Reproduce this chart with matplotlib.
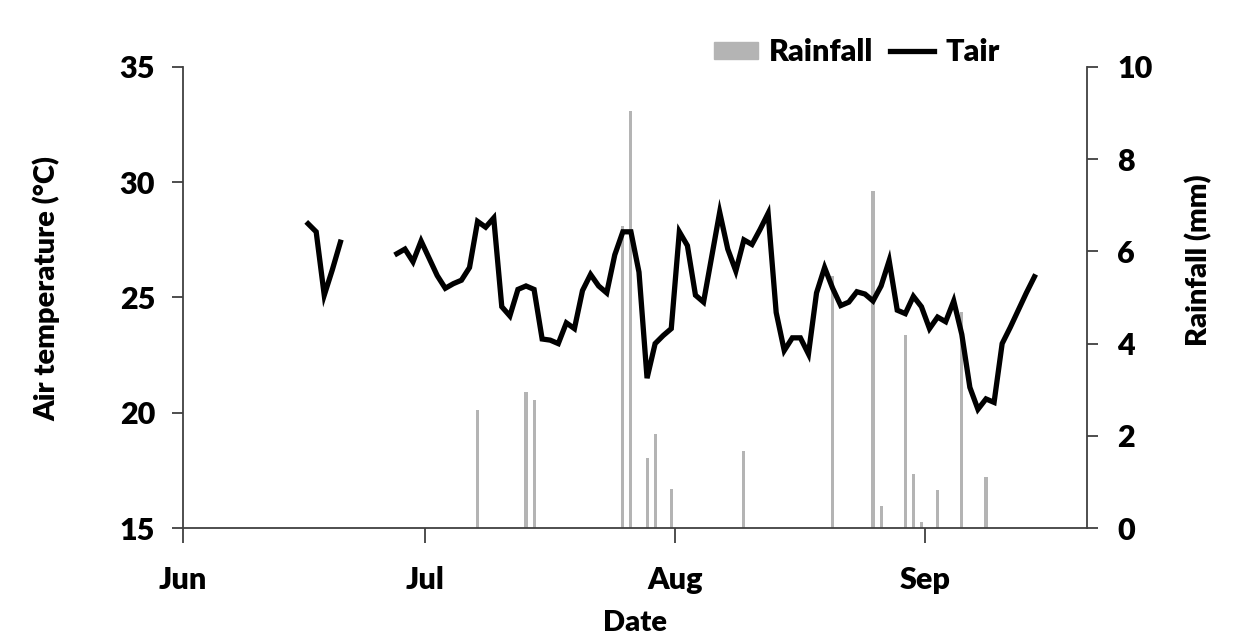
import numpy as np
import matplotlib
matplotlib.use('Agg')
import matplotlib.pyplot as plt
from matplotlib.patches import Patch
from matplotlib.lines import Line2D

# day index from 1 June (0 = Jun 1)
tair_days = list(range(15, 20)) + list(range(26, 106))
tair = [28.2, 27.85, 25.1, 26.2, 27.4,
        26.9, 27.1, 26.55, 27.45, 26.7, 25.95, 25.4, 25.6, 25.75, 26.3,
        28.3, 28.05, 28.45, 24.6, 24.2, 25.35, 25.5, 25.35, 23.2, 23.15,
        23.0, 23.9, 23.65, 25.3, 26.0, 25.5, 25.2, 26.85, 27.85, 27.85,
        26.1, 21.5, 23.0, 23.35, 23.65, 27.85, 27.25, 25.1, 24.8, 26.75,
        28.7, 27.1, 26.15, 27.5, 27.3, 27.95, 28.65, 24.35, 22.7, 23.25,
        23.25, 22.55, 25.2, 26.3, 25.4, 24.65, 24.8, 25.25, 25.15, 24.85,
        25.5, 26.6, 24.45, 24.3, 25.05, 24.6, 23.65, 24.15, 23.95, 24.85,
        23.4, 21.1, 20.15, 20.6, 20.45, 23.0, 23.7, 24.45, 25.2, 25.9]

rain_days = [36, 42, 43, 54, 55, 57, 58, 60, 69, 80, 85, 86, 89, 90, 91, 93, 96, 99]
rain = [2.57, 2.95, 2.77, 6.55, 9.05, 1.52, 2.03, 0.85, 1.68, 5.47, 7.3, 0.48,
        4.18, 1.17, 0.13, 0.83, 4.69, 1.11]

month_days = [0, 30, 61, 92]
month_labels = ['Jun', 'Jul', 'Aug', 'Sep']

plt.rcParams['font.family'] = ['Lato', 'DejaVu Sans']
plt.rcParams['font.weight'] = 'heavy'
W = 'heavy'

fig = plt.figure(figsize=(12.45, 6.35), dpi=100)
ax = fig.add_axes([0.147, 0.1685, 0.726, 0.726])
ax2 = ax.twinx()

# full daily series with gaps where data is missing
t_full = np.full(112, np.nan)
t_full[tair_days] = tair
ax.plot(np.arange(112) + 0.5, t_full, color='black', lw=3.8, solid_joinstyle='miter', zorder=3)

ax2.bar(np.array(rain_days) + 0.5, rain, width=0.38, color='#b4b4b4', zorder=1)

ax.set_zorder(ax2.get_zorder() + 1)
ax.patch.set_visible(False)

ax.set_xlim(0, 112)
ax.set_ylim(15, 35)
ax2.set_ylim(0, 10)
ax.set_yticks([15, 20, 25, 30, 35])
ax2.set_yticks([0, 2, 4, 6, 8, 10])
ax.set_xticks(month_days)
ax.set_xticklabels(month_labels)

spine_col = '#404040'
for a in (ax, ax2):
    a.spines['top'].set_visible(False)
    for s in ('left', 'right', 'bottom'):
        a.spines[s].set_color(spine_col)
        a.spines[s].set_linewidth(1.3)
ax.spines['right'].set_visible(False)
ax2.spines['left'].set_visible(False)
ax2.spines['bottom'].set_visible(False)

ax.tick_params(axis='y', direction='out', length=8, width=1.3, color=spine_col,
               labelsize=22, pad=12)
ax.tick_params(axis='x', direction='out', length=11, width=1.3, color=spine_col,
               labelsize=22, pad=16)
ax2.tick_params(axis='y', direction='out', length=8, width=1.3, color=spine_col,
                labelsize=22, pad=14)
for lab in ax.get_xticklabels() + ax.get_yticklabels() + ax2.get_yticklabels():
    lab.set_fontweight(W)

ax.set_xlabel('Date', fontsize=21, fontweight=W)
ax.xaxis.set_label_coords(0.5, -0.178)
ax.set_ylabel('Air temperature (°C)', fontsize=21, fontweight=W)
ax.yaxis.set_label_coords(-0.136, 0.52)
ax2.set_ylabel('Rainfall (mm)', fontsize=21, fontweight=W)
ax2.yaxis.set_label_coords(1.108, 0.58)

handles = [Patch(color='#b4b4b4'), Line2D([0], [0], color='black', lw=3.8)]
fig.legend(handles, ['Rainfall', 'Tair'], ncol=2, frameon=False,
           prop={'weight': W, 'size': 22},
           loc='center', bbox_to_anchor=(0.688, 0.918), handlelength=1.45,
           handletextpad=0.35, columnspacing=0.55, handleheight=0.5)

fig.savefig('out.png', dpi=100)
